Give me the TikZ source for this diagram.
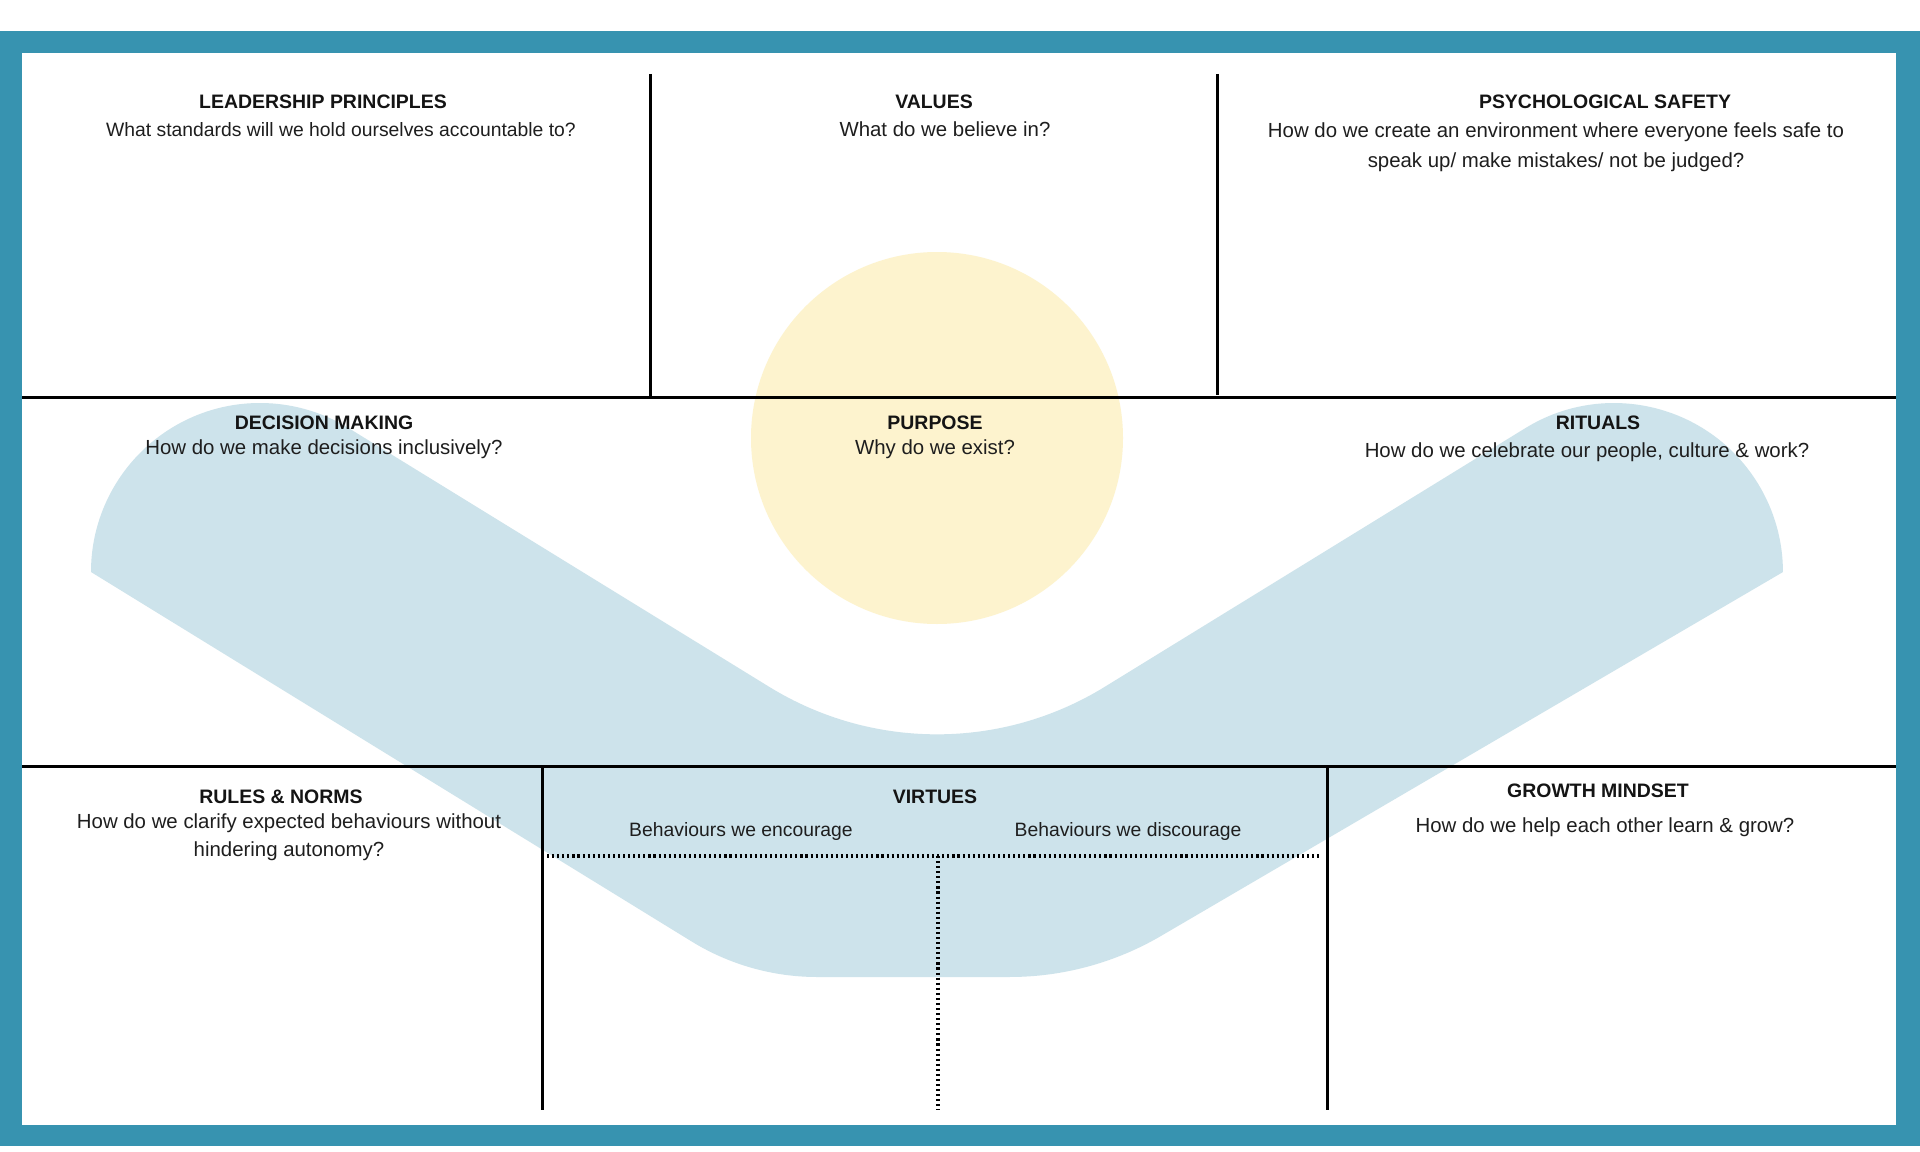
\documentclass[tikz,border=0pt]{standalone}
\usepackage{fontspec}
\setmainfont{Liberation Sans}
\begin{document}
\begin{tikzpicture}[x=0.75pt,y=0.75pt,yscale=-1,xscale=1,
  head/.style={anchor=base,inner sep=0.75pt,font=\fontsize{14.6}{18}\selectfont\bfseries,text={rgb,255:red,20;green,20;blue,20}},
  ask/.style={anchor=base,inner sep=0.75pt,align=center,font=\fontsize{15.3}{21}\selectfont,text={rgb,255:red,30;green,30;blue,30}},
  sub/.style={anchor=base,inner sep=0.75pt,font=\fontsize{14.5}{18}\selectfont,text={rgb,255:red,30;green,30;blue,30}},
  rule/.style={line width=2.25pt},
  dots/.style={line width=2.4pt,dash pattern=on 1.6pt off 2.2pt}]
\useasboundingbox (0,0) rectangle (1920,1152); %set diagram at 1920 x 1152

%Shape: Rectangle (frame)
\fill [color={rgb, 255:red, 55; green, 147; blue, 176 }] (0,30.6) rectangle (1920,1146) ;
\fill [white] (22,52.7) rectangle (1896,1125) ;

%Shape: Band
\fill [color={rgb, 255:red, 205; green, 227; blue, 235 }] (91,572) arc [start angle=180, end angle=301.6, radius=169] -- (769.3,686.9) arc [start angle=121.6, end angle=58.4, radius=320] -- (1525.4,428.1) arc [start angle=238.4, end angle=360, radius=169] -- (1160.9,936) arc [start angle=59.7, end angle=90, radius=300] -- (817.3,977) arc [start angle=90, end angle=121.6, radius=240] -- cycle ;

%Shape: Circle
\fill [color={rgb, 255:red, 253; green, 243; blue, 206 }] (937,438) circle (186) ;

%Straight Lines
\draw [rule] (22,397) -- (1896,397) ;
\draw [rule] (22,766) -- (1896,766) ;
\draw [rule] (650,74) -- (650,397) ;
\draw [rule] (1217,74) -- (1217,395) ;
\draw [rule] (542,766) -- (542,1110) ;
\draw [rule] (1327,766) -- (1327,1110) ;
%Dotted Lines
\draw [dots] (542,856) -- (1322,856) ;
\draw [dots] (938,856) -- (938,1110) ;

% Text Node
\draw (323,109) node (leadHead) [head] {LEADERSHIP PRINCIPLES};
% Text Node
\draw (341,137) node (leadAsk) [sub] {What standards will we hold ourselves accountable to?};
% Text Node
\draw (934,109) node (valHead) [head] {VALUES};
% Text Node
\draw (945,137) node (valAsk) [ask] {What do we believe in?};
% Text Node
\draw (1605,109) node (psyHead) [head] {PSYCHOLOGICAL SAFETY};
% Text Node
\draw (1556,168) node (psyAsk) [ask] {How do we create an environment where everyone feels safe to\\[1.5pt]speak up/ make mistakes/ not be judged?};
% Text Node
\draw (324,429) node (decHead) [head] {DECISION MAKING};
% Text Node
\draw (324,454) node (decAsk) [ask] {How do we make decisions inclusively?};
% Text Node
\draw (935,429) node (purHead) [head] {PURPOSE};
% Text Node
\draw (935,454) node (purAsk) [ask] {Why do we exist?};
% Text Node
\draw (1598,429) node (ritHead) [head] {RITUALS};
% Text Node
\draw (1587,457) node (ritAsk) [ask] {How do we celebrate our people, culture \& work?};
% Text Node
\draw (281,803) node (rulHead) [head] {RULES \& NORMS};
% Text Node
\draw (289,856) node (rulAsk) [ask] {How do we clarify expected behaviours without\\hindering autonomy?};
% Text Node
\draw (935,803) node (virHead) [head] {VIRTUES};
% Text Node
\draw (741,836) node (virGood) [sub] {Behaviours we encourage};
% Text Node
\draw (1128,836) node (virBad) [sub] {Behaviours we discourage};
% Text Node
\draw (1598,797) node (groHead) [head] {GROWTH MINDSET};
% Text Node
\draw (1605,832) node (groAsk) [ask] {How do we help each other learn \& grow?};

\end{tikzpicture}
\end{document}
